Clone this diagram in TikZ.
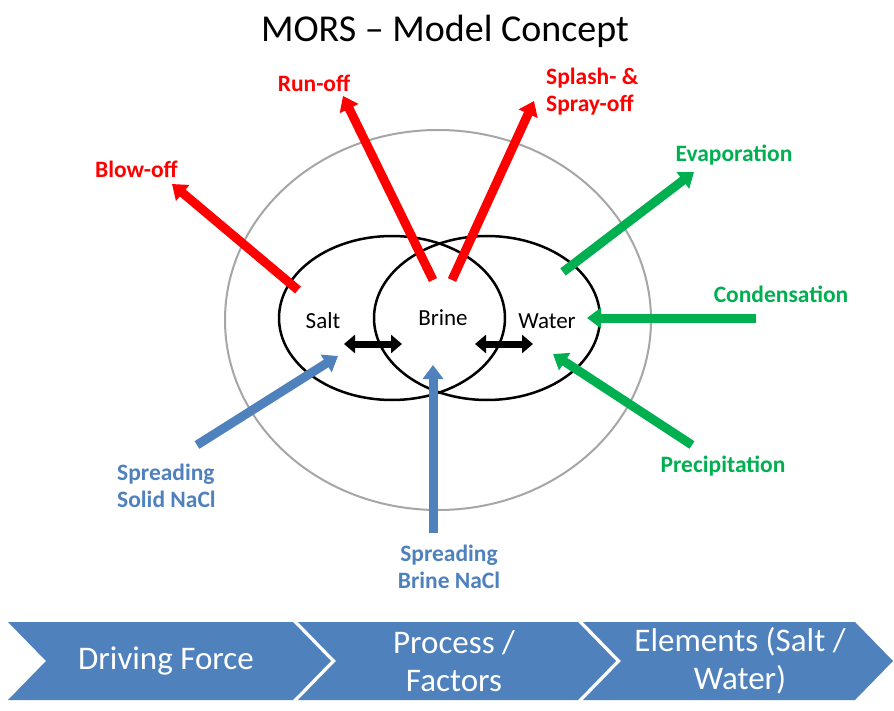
\documentclass[tikz,border=0pt]{standalone}
\usepackage{fontspec}
\setmainfont{Carlito}
\usetikzlibrary{arrows.meta}
\definecolor{flowred}{HTML}{FF0000}
\definecolor{flowgreen}{HTML}{00B050}
\definecolor{flowblue}{HTML}{4F81BD}
\definecolor{ringgrey}{HTML}{A6A6A6}
\tikzset{
  flow/.style={line width=9pt, -{Triangle[length=14pt,width=20pt]}},
  swap/.style={line width=7pt, {Triangle[length=11pt,width=18pt]}-{Triangle[length=11pt,width=18pt]}},
  lbl/.style={inner sep=0pt, font=\fontsize{23.5}{27}\selectfont\bfseries, align=center},
  elem/.style={inner sep=0pt, font=\fontsize{23}{27}\selectfont},
  chev/.style={fill=flowblue, draw=none},
  chevtext/.style={inner sep=0pt, text=white, align=center, font=\fontsize{33}{38}\selectfont}
}
\begin{document}
\begin{tikzpicture}[x=1pt,y=-1pt]
\useasboundingbox (0,0) rectangle (894,711);
\fill[white] (0,0) rectangle (894,711);

% title
\node[inner sep=0pt, font=\fontsize{38}{42}\selectfont] (title) at (445,31) {MORS -- Model Concept};

% outer ring and the two element ellipses
\draw[ringgrey, line width=2pt] (438,320) ellipse [x radius=213pt, y radius=190pt];
\draw[black, line width=2.5pt] (392,318) ellipse [x radius=113pt, y radius=82pt];
\draw[black, line width=2.5pt] (487,318) ellipse [x radius=113pt, y radius=82pt];

% element labels
\node[elem] (salt) at (323,321) {Salt};
\node[elem] (brine) at (443,318) {Brine};
\node[elem] (water) at (547,321) {Water};

% exchange between elements
\coordinate (sb1) at (344,344); \coordinate (sb2) at (402,344);
\coordinate (bw1) at (475,344); \coordinate (bw2) at (533,344);
\draw[swap] (sb1) -- (sb2);
\draw[swap] (bw1) -- (bw2);

% losses (red)
\coordinate (blowS) at (298,290); \coordinate (blowE) at (172,184);
\coordinate (runS) at (433,280);  \coordinate (runE) at (343,96);
\coordinate (splS) at (452,280);  \coordinate (splE) at (534,101);
\draw[flow, flowred] (blowS) -- (blowE);
\draw[flow, flowred] (runS) -- (runE);
\draw[flow, flowred] (splS) -- (splE);
\node[lbl, text=flowred, anchor=east] (blow) at (178,169) {Blow-off};
\node[lbl, text=flowred] (run) at (314,83) {Run-off};
\node[lbl, text=flowred, align=left, anchor=west] (splash) at (546,92) {Splash- \&\\Spray-off};

% water exchange (green)
\coordinate (evaS) at (563,272); \coordinate (evaE) at (694,172);
\coordinate (conS) at (756,318); \coordinate (conE) at (587,318);
\coordinate (preS) at (692,445); \coordinate (preE) at (553,354);
\draw[flow, flowgreen] (evaS) -- (evaE);
\draw[flow, flowgreen] (conS) -- (conE);
\draw[flow, flowgreen] (preS) -- (preE);
\node[lbl, text=flowgreen] (eva) at (734,155) {Evaporation};
\node[lbl, text=flowgreen] (con) at (781,294) {Condensation};
\node[lbl, text=flowgreen] (pre) at (723,466) {Precipitation};

% de-icing input (blue)
\coordinate (solS) at (197,445); \coordinate (solE) at (338,356);
\coordinate (briS) at (433,533); \coordinate (briE) at (433,365);
\draw[flow, flowblue] (solS) -- (solE);
\draw[flow, flowblue] (briS) -- (briE);
\node[lbl, text=flowblue, align=left, anchor=west] (solid) at (117,486) {Spreading\\Solid NaCl};
\node[lbl, text=flowblue] (brinecl) at (449,567) {Spreading\\Brine NaCl};

% process chain
\fill[chev] (8,622) -- (293,622) -- (331,661) -- (293,700) -- (8,700) -- (46,661) -- cycle;
\fill[chev] (298,622) -- (578,622) -- (616,661) -- (578,700) -- (298,700) -- (336,661) -- cycle;
\fill[chev] (583,622) -- (855,622) -- (893,661) -- (855,700) -- (583,700) -- (621,661) -- cycle;
\node[chevtext] (drive) at (166,661) {Driving Force};
\node[chevtext] (proc) at (454,661) {Process /\\Factors};
\node[chevtext] (elems) at (740,661) {Elements (Salt /\\Water)};
\end{tikzpicture}
\end{document}
